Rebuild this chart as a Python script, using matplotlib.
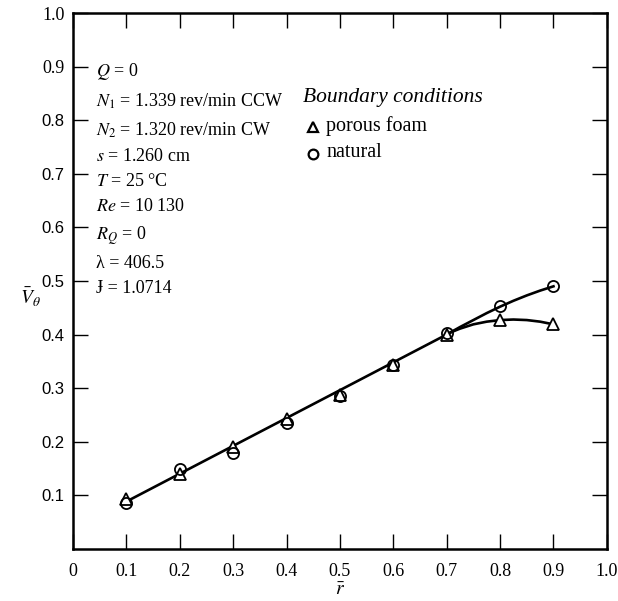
import matplotlib
matplotlib.use("Agg")
import matplotlib.pyplot as plt
import numpy as np

plt.rcParams["font.family"] = ["Liberation Serif", "DejaVu Serif"]
plt.rcParams["mathtext.fontset"] = "stix"

# measured points
r = np.array([0.1, 0.2, 0.3, 0.4, 0.5, 0.6, 0.7, 0.8, 0.9])
v_foam = np.array([0.093, 0.139, 0.190, 0.243, 0.287, 0.344, 0.400, 0.428, 0.419])
v_natural = np.array([0.085, 0.148, 0.179, 0.235, 0.285, 0.344, 0.402, 0.453, 0.490])

# faired curves drawn through the data
line_r = [0.1, 0.7]
line_v = [0.088, 0.400]
nat_r = [0.70, 0.725, 0.75, 0.775, 0.80, 0.825, 0.85, 0.875, 0.90]
nat_v = [0.400, 0.414, 0.427, 0.440, 0.452, 0.463, 0.473, 0.482, 0.490]
foam_r = [0.70, 0.71, 0.725, 0.75, 0.775, 0.80, 0.825, 0.85, 0.875, 0.90]
foam_v = [0.400, 0.405, 0.411, 0.419, 0.424, 0.427, 0.428, 0.427, 0.424, 0.419]

params = [
    r"$Q$ = 0",
    r"$N_1$ = 1.339 rev/min CCW",
    r"$N_2$ = 1.320 rev/min CW",
    r"$s$ = 1.260 cm",
    r"$T$ = 25 °C",
    r"$Re$ = 10 130",
    r"$R_Q$ = 0",
    r"λ = 406.5",
    r"Ɉ = 1.0714",
]

xticks = [0, 0.1, 0.2, 0.3, 0.4, 0.5, 0.6, 0.7, 0.8, 0.9, 1.0]
xticklabels = ["0", "0.1", "0.2", "0.3", "0.4", "0.5", "0.6", "0.7", "0.8", "0.9", "1.0"]
yticks = [0.1, 0.2, 0.3, 0.4, 0.5, 0.6, 0.7, 0.8, 0.9, 1.0]
yticklabels = ["0.1", "0.2", "0.3", "0.4", "0.5", "0.6", "0.7", "0.8", "0.9", "1.0"]

fig = plt.figure(figsize=(6.18, 6.01), dpi=100)
ax = fig.add_axes([0.118, 0.087, 0.864, 0.891])

ax.plot(line_r, line_v, color="black", lw=1.9, solid_capstyle="round")
ax.plot(nat_r, nat_v, color="black", lw=1.9)
ax.plot(foam_r, foam_v, color="black", lw=1.9)

ax.plot(r, v_foam, ls="none", marker="^", ms=8, mfc="white", mec="black", mew=1.3)
ax.plot(r, v_natural, ls="none", marker="o", ms=8, mfc="none", mec="black", mew=1.3)

ax.set_xlim(0, 1.0)
ax.set_ylim(0, 1.0)
ax.set_xticks(xticks)
ax.set_xticklabels(xticklabels, fontsize=13)
ax.set_yticks(yticks)
ax.set_yticklabels(yticklabels, fontsize=13)
for lab in ax.get_yticklabels()[:8]:
    lab.set_family(["Liberation Sans", "DejaVu Sans"])
    lab.set_fontsize(12)
ax.tick_params(direction="in", length=11, width=1.0, top=True, right=True, pad=6)
ax.tick_params(axis="x", pad=10)
for sp in ax.spines.values():
    sp.set_linewidth(1.8)

ax.set_xlabel(r"$\bar{r}$", fontsize=14, labelpad=2)
ax.set_ylabel(r"$\bar{V}_\theta$", fontsize=14, rotation=0, va="center", ha="center")
ax.yaxis.set_label_coords(-0.08, 0.47)

ax.text(0.043, 0.91, "\n".join(params), fontsize=13, va="top", ha="left",
        linespacing=1.62)

ax.text(0.43, 0.843, "Boundary conditions", fontsize=15.5, style="italic",
        va="center", ha="left")
ax.plot([0.449], [0.787], ls="none", marker="^", ms=7, mfc="white", mec="black", mew=1.6)
ax.plot([0.449], [0.738], ls="none", marker="o", ms=7, mfc="none", mec="black", mew=1.6)
ax.text(0.474, 0.789, "porous foam", fontsize=14.5, va="center", ha="left")
ax.text(0.474, 0.740, "natural", fontsize=14.5, va="center", ha="left")

fig.savefig("out.png", dpi=100)
